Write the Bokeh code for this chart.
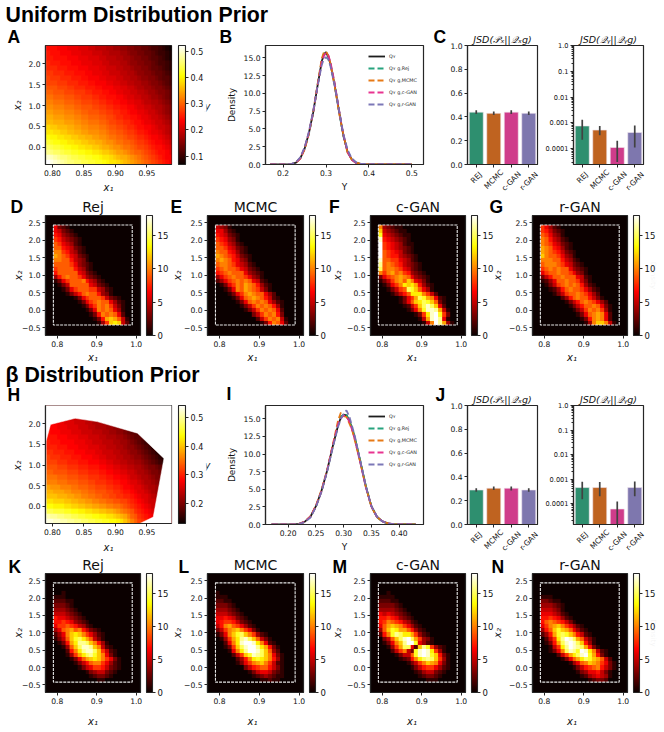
import math
import numpy as np
from bokeh.embed import file_html
from bokeh.resources import INLINE
from bokeh.layouts import column, row
from bokeh.models import (ColorBar, FixedTicker, Label, Legend, LegendItem, LinearColorMapper,
                          Range1d, NumeralTickFormatter, Spacer)
from bokeh.plotting import figure

# ---------- data ----------
TITLE_TOP = "Uniform Distribution Prior"
TITLE_BOTTOM = "β Distribution Prior"
methods = ["REJ", "MCMC", "c-GAN", "r-GAN"]
bar_colors = ["#2E8F6F", "#BF6320", "#CF3C8B", "#7E77AE"]
box_x = [0.79, 0.99]
box_y = [-0.42, 2.44]

# response surfaces (y*100), bottom row first, columns x1 = 0.79..0.99
surface_a = """52 51 50 49 48 47 46 46 45 45 44 44 43 43 42 42 41 40 39 39 38 37 36 35 34 33 32 31 30 29 28 27 26 25 24 23
50 49 48 47 46 46 45 44 44 43 43 42 42 41 41 40 39 39 38 37 36 35 35 34 33 32 31 30 29 28 27 26 25 24 23 23
47 46 45 45 44 43 43 42 42 41 41 40 40 39 39 38 37 37 36 35 34 34 33 32 31 30 30 29 28 27 26 25 24 24 23 22
45 44 43 43 42 41 41 40 40 39 39 38 38 37 37 36 35 35 34 33 33 32 31 31 30 29 28 28 27 26 25 24 24 23 22 21
43 42 41 41 40 40 39 39 38 38 37 37 36 36 35 35 34 33 33 32 31 31 30 30 29 28 27 27 26 25 24 23 23 22 21 20
41 40 40 39 39 38 38 37 37 36 36 35 35 34 34 33 33 32 31 31 30 30 29 28 28 27 26 26 25 24 23 23 22 21 20 19
39 39 38 38 37 37 36 36 35 35 34 34 33 33 33 32 32 31 30 30 29 29 28 27 27 26 25 25 24 23 22 22 21 20 19 18
38 37 37 36 36 36 35 35 34 34 33 33 32 32 32 31 31 30 29 29 28 28 27 26 26 25 24 24 23 23 22 21 20 20 19 18
36 36 35 35 35 34 34 34 33 33 32 32 31 31 31 30 30 29 28 28 27 27 26 26 25 24 24 23 22 22 21 20 20 19 18 17
35 35 34 34 34 33 33 33 32 32 31 31 30 30 30 29 29 28 28 27 26 26 25 25 24 24 23 22 22 21 20 20 19 18 17 16
34 34 33 33 33 32 32 32 31 31 30 30 29 29 29 28 28 27 27 26 26 25 25 24 23 23 22 22 21 20 20 19 18 17 16 15
33 33 32 32 32 31 31 31 30 30 29 29 29 28 28 27 27 26 26 25 25 24 24 23 23 22 21 21 20 20 19 18 18 17 16 15
32 32 31 31 31 30 30 30 29 29 28 28 28 27 27 26 26 25 25 24 24 23 23 22 22 21 21 20 19 19 18 18 17 16 15 14
31 31 30 30 30 29 29 29 28 28 27 27 27 26 26 25 25 24 24 24 23 23 22 21 21 20 20 19 19 18 17 17 16 15 14 13
30 30 29 29 29 28 28 28 27 27 27 26 26 25 25 25 24 24 23 23 22 22 21 21 20 20 19 19 18 17 17 16 15 15 14 13
29 29 29 28 28 28 27 27 26 26 26 25 25 25 24 24 23 23 23 22 22 21 21 20 20 19 18 18 17 17 16 15 15 14 13 12
28 28 28 27 27 27 26 26 26 25 25 25 24 24 23 23 23 22 22 21 21 20 20 19 19 18 18 17 17 16 15 15 14 13 12 11
28 27 27 27 26 26 26 25 25 25 24 24 23 23 23 22 22 21 21 21 20 20 19 19 18 18 17 16 16 15 15 14 13 12 12 11
27 27 26 26 26 25 25 25 24 24 24 23 23 22 22 22 21 21 20 20 20 19 19 18 18 17 16 16 15 15 14 13 13 12 11 10
26 26 26 25 25 25 24 24 24 23 23 23 22 22 22 21 21 20 20 20 19 19 18 18 17 16 16 15 15 14 13 13 12 11 10 9
26 25 25 25 24 24 24 23 23 23 22 22 22 21 21 21 20 20 19 19 19 18 18 17 16 16 15 15 14 14 13 12 11 11 10 9
25 25 24 24 24 24 23 23 23 22 22 22 21 21 21 20 20 19 19 19 18 18 17 17 16 15 15 14 14 13 12 12 11 10 9 8
25 24 24 24 23 23 23 22 22 22 21 21 21 20 20 20 19 19 18 18 18 17 17 16 15 15 14 14 13 13 12 11 10 10 9 8
24 24 24 23 23 23 22 22 22 21 21 21 20 20 19 19 19 18 18 17 17 16 16 15 15 14 14 13 13 12 11 11 10 9 8 7"""
surface_h = """53 53 52 52 51 51 50 50 49 49 48 48 47 47 46 46 45 45 44 44 43 42 40 38 36 34 32 31 30 29 28 27 26 25 25 24
51 50 50 49 49 48 48 47 47 46 46 45 45 44 44 43 43 42 42 41 40 39 38 36 34 33 31 30 29 28 27 26 25 24 24 23
47 47 46 46 46 45 45 44 44 43 43 42 42 41 41 40 40 39 39 38 37 36 35 34 33 31 30 29 28 27 26 25 24 23 23 22
44 44 43 43 43 42 42 41 41 40 40 39 39 38 38 37 37 36 36 35 35 34 33 32 31 30 29 28 27 26 25 24 23 23 22 21
42 42 41 41 41 40 40 39 39 38 38 37 37 36 36 35 35 34 34 33 33 32 32 31 30 29 28 27 26 25 25 24 23 22 21 20
40 40 40 39 39 39 38 38 37 37 36 36 35 35 34 34 33 33 32 32 31 31 30 30 29 28 27 26 26 25 24 23 22 21 20 19
39 39 38 38 38 37 37 36 36 36 35 35 34 34 33 33 33 32 32 31 31 30 29 29 28 27 26 26 25 24 23 22 22 21 20 19
38 37 37 37 36 36 36 35 35 34 34 34 33 33 32 32 32 31 31 30 30 29 28 28 27 26 26 25 24 23 23 22 21 20 19 18
36 36 36 35 35 35 34 34 34 33 33 33 32 32 31 31 31 30 30 29 29 28 28 27 26 26 25 24 23 23 22 21 20 19 19 18
35 35 35 34 34 34 33 33 33 32 32 32 31 31 31 30 30 29 29 28 28 27 27 26 25 25 24 23 23 22 21 20 20 19 18 17
34 34 33 33 33 33 32 32 32 31 31 31 30 30 30 29 29 28 28 27 27 26 26 25 25 24 23 23 22 21 20 20 19 18 17 16
33 33 33 32 32 32 31 31 31 30 30 30 29 29 29 28 28 27 27 26 26 25 25 24 24 23 23 22 21 20 20 19 18 17 16 15
32 32 32 31 31 31 30 30 30 29 29 29 28 28 28 27 27 26 26 25 25 24 24 23 23 22 22 21 20 19 18 17 16 15 14 13
32 31 31 31 30 30 30 29 29 29 28 28 28 27 27 26 26 25 25 25 24 24 23 23 22 21 21 20 19 18 17 16 15 14 13 13
31 31 30 30 30 29 29 29 28 28 28 27 27 27 26 26 25 25 25 24 24 23 23 22 21 21 20 19 18 17 16 15 14 13 13 13
30 30 30 29 29 29 28 28 28 27 27 27 26 26 26 25 25 24 24 24 23 23 22 21 21 20 19 18 17 16 15 14 14 13 13 13
30 29 29 29 28 28 28 28 27 27 27 26 26 25 25 25 24 24 24 23 23 22 22 21 20 19 18 17 16 16 15 14 13 13 13 13
29 29 29 28 28 28 27 27 27 26 26 26 25 25 25 24 24 23 23 23 22 22 21 20 19 18 18 17 16 15 14 14 13 13 13 13
29 28 28 28 27 27 27 26 26 26 25 25 25 24 24 24 23 23 22 22 21 21 20 19 18 18 17 16 15 15 14 13 13 13 13 13
28 28 28 27 27 27 26 26 26 25 25 25 24 24 23 23 23 22 22 21 21 20 19 19 18 17 16 16 15 14 14 13 13 13 13 13
28 28 27 27 27 26 26 26 25 25 25 24 24 23 23 23 22 22 21 21 20 20 19 18 18 17 16 15 15 14 13 13 13 13 13 13
28 27 27 27 26 26 26 25 25 25 24 24 23 23 22 22 22 21 21 20 20 19 18 18 17 16 16 15 14 14 13 13 13 13 13 13
27 27 27 26 26 26 25 25 25 24 24 23 23 22 22 22 21 21 20 20 19 19 18 17 17 16 15 15 14 13 13 13 13 13 13 13
27 27 26 26 26 25 25 25 24 24 23 23 22 22 22 21 21 20 20 19 19 18 18 17 16 16 15 14 14 13 13 13 13 13 13 13"""
hull_x1 = [0.79, 0.797, 0.836, 0.871, 0.935, 0.977, 0.96, 0.938, 0.79]
hull_x2 = [1.58, 1.98, 2.13, 2.05, 1.77, 1.16, -0.26, -0.42, -0.42]

# density curves
b_x = [.17,.20,.21,.22,.23,.24,.25,.26,.27,.28,.29,.295,.30,.305,.31,.32,.33,.34,.35,.36,.37,.38,.39,.40,.42,.45,.50]
b_true = [0,0,.01,.06,.25,.85,2.2,4.4,7.3,11,14.5,15.5,15.8,15.2,14.2,11.2,7.6,4.2,1.8,.7,.25,.08,.03,.01,0,0,0]
b_rej = [0,0,.01,.07,.27,.9,2.2,4.3,7.2,11.1,14.6,15.6,15.7,15.3,14.3,11.4,7.7,4.1,1.9,.7,.22,.07,.02,0,0,0,0]
b_mcmc = [0,0,.01,.05,.24,.82,2.1,4.3,7.4,11.2,14.9,15.8,15.9,15.4,14.3,11.1,7.4,4.3,1.7,.7,.27,.09,.03,.01,0,0,0]
b_cgan = [0,0,.01,.06,.26,.88,2.3,4.5,7.3,11,14.4,15.3,15.7,15.4,14.5,11.5,7.8,4.3,1.8,.65,.22,.07,.02,.01,.01,.01,0]
b_rgan = [0,0,.02,.09,.33,1,2.4,4.6,7.5,10.9,14,14.9,15.1,14.8,13.9,11.1,7.7,4.4,2.1,.85,.32,.11,.04,.02,0,0,0]
i_x = [.17,.20,.21,.22,.23,.24,.25,.26,.27,.28,.29,.295,.30,.305,.31,.315,.32,.33,.34,.35,.36,.37,.38,.39,.40,.43]
i_true = [0,0,.02,.1,.4,1.1,2.6,4.8,7.6,11,14.1,15.2,15.6,15.5,14.8,13.7,12.3,8.9,5.4,2.6,1.1,.45,.15,.05,.02,0]
i_rej = [0,0,.02,.1,.38,1.1,2.5,4.7,7.5,11,14.2,15.4,15.5,15.7,14.6,13.9,12.4,9.1,5.5,2.6,1.05,.42,.14,.05,.01,0]
i_mcmc = [0,0,.02,.11,.42,1.15,2.7,4.9,7.7,11.2,14.8,15.9,15.4,15.3,14.4,13.5,12,8.8,5.3,2.5,1.05,.45,.16,.05,.02,0]
i_cgan = [0,0,.02,.1,.4,1.1,2.6,4.7,7.6,11.1,14.3,15.1,15.5,15.3,14.7,13.5,12.2,8.8,5.3,2.55,1.1,.45,.15,.05,.02,0]
i_rgan = [0,0,.01,.08,.35,1,2.5,4.7,7.5,10.8,13.9,15,15.7,16.2,15.4,14,12.6,9,5.4,2.6,1.1,.44,.14,.04,.01,0]

# JSD bars: value, low, high
c1_vals = [.44, .43, .44, .43]; c1_lo = [.425, .415, .425, .415]; c1_hi = [.455, .445, .455, .445]
c2_vals = [.00075, .00052, .00011, .00042]; c2_lo = [.00022, .00033, .00003, .00011]; c2_hi = [.0013, .00075, .0002, .00078]
j1_vals = [.29, .305, .305, .29]; j1_lo = [.275, .29, .285, .275]; j1_hi = [.305, .32, .32, .305]
j2_vals = [.00045, .00045, .00006, .00045]; j2_lo = [.00015, .0002, .00001, .0002]; j2_hi = [.00078, .00075, .00012, .0008]

# 2-D histograms: top row first, one character per cell, base 19 (0..i = density 0..18)
hist_d = ["63210000000000000000","65321000000000000000","76432100000000000000","87543210000000000000",
 "98654210000000000000","99765321000000000000","aa875421000000000000","ba986532100000000000",
 "aa997543100000000000","99998643210000000000","89999754210000000000","79999965321000000000",
 "479a9986432100000000","1368999a754210000000","01359999965321000000","00136899988542100000",
 "00013579a99743100000","00000136899985321000","00000013689a99642100","00000001368a9a853100",
 "00000000136a9a964100","000000000137a9a96200","0000000000137bcb9510","00000000000148cdc520"]
hist_e = ["54310000000000000000","66421000000000000000","76532100000000000000","87643100000000000000",
 "98754210000000000000","99865321000000000000","a9976421000000000000","ba987532100000000000",
 "aba97643100000000000","9aa98654210000000000","89a99865321000000000","789a9996432100000000",
 "4689a998643100000000","24689a9a965210000000","01368a9ba97421000000","00136a9ba98531000000",
 "0001368aba9964200000","00001369aba975210000","000001369a9a96421000","0000001358a9a9741000",
 "00000001358a9a962000","000000000358a9a73000","0000000000258a9a5100","00000000000137a96200"]
hist_f = ["a4321100000000000000","c5432110000000000000","e6543211000000000000","h7654321000000000000",
 "i8765421100000000000","i8765432100000000000","i9876532100000000000","i9877543210000000000",
 "h9988654210000000000","g9a98754321000000000","f9aa9865321000000000","a8ab9a87432100000000",
 "3689aba9643210000000","1358ab9ca65310000000","01368adcdb7421000000","0013589fec9641000000",
 "00013579ddda85200000","000001368bfeba621000","000001369cdfec931000","0000001258cfhfc62000",
 "0000000136aehhgb5100","000000000138dhie8300","000000000015bhig6100","0000000000015aigb410"]
hist_g = ["86421000000000000000","87532100000000000000","98643100000000000000","a9754210000000000000",
 "a9865321000000000000","ba976421000000000000","ba987532100000000000","ca998643100000000000",
 "aaa99754210000000000","9aaa9865321000000000","89a9a996432100000000","6899a998643100000000",
 "35799a99965210000000","124699a9985310000000","013589a9a97421000000","0012479a998642100000",
 "000135899a9864200000","000002479a9975310000","00000013579a98642000","0000000135799a963100",
 "000000001358a9a84100","0000000001369aba6200","0000000000137aba6200","0000000000014acca510"]
hist_k = ["00000000000000000000","00000000000000000000","00100000000000000000","11100000000000000000",
 "22211000000000000000","33321000000000000000","44432100000000000000","55543210000000000000",
 "76654321000000000000","77876432100000000000","68898754210000000000","469ab9a7532100000000",
 "246acdca864210000000","1359cefdb95310000000","0137bdggfca741000000","00149cfhhgca52100000",
 "00027adghhfc85210000","000148bdfgeca6310000","00001369bcdca8631000","0000013579aa86421000",
 "00000013568875321000","00000000134553210000","00000000012332100000","00000000000110000000"]
hist_l = ["00000000000000000000","00000000000000000000","10000000000000000000","11100000000000000000",
 "22110000000000000000","33321000000000000000","44432100000000000000","55543210000000000000",
 "66765321000000000000","67887532100000000000","57ab9864210000000000","358abca8631000000000",
 "136acefca84210000000","0148bdghfc9531000000","0026adhiihda62100000","00138cfhiigdb7310000",
 "00016adgiihfc9420000","0000258cehgfca631000","00000247adedca741000","000001368abca8521000",
 "00000003578997531000","00000000135665321000","00000000012343211000","00000000000112110000"]
hist_m = ["00000000000000000000","00000000000000000000","00100000000000000000","11110000000000000000",
 "22211000000000000000","33332100000000000000","44443210000000000000","65654321000000000000",
 "77876432100000000000","78a98754210000000000","69bcba86421000000000","49cedbb9742100000000",
 "27aegfddb84210000000","0359cfhifb8431000000","0136acgiie6421000000","00148bff62cge8421000",
 "000258a53ehihd841000","000013559ehihec73100","000001237adfgfc84100","00000001358acba63100",
 "00000000135788642100","00000000012455321000","00000000001233210000","00000000000011100000"]
hist_n = ["00000000000000000000","00000000000000000000","00000000000000000000","11100000000000000000",
 "33211000000000000000","44432100000000000000","55543100000000000000","66654210000000000000",
 "77876421000000000000","79a98753100000000000","68abca86421000000000","479cecb9642100000000",
 "247befeca75210000000","0258dgihfb9531000000","0137bfhihfc741000000","00158dgihgfb73100000",
 "00136afhgeihda521000","0000258bdfhieb731000","000001369bdfecb95200","00000001469acba86310",
 "00000000135789a75310","00000000013466753100","00000000001245654100","00000000000012332000"]

# ---------- style ----------
AX = "#262626"
TICK_FS = "7.6px"
ANCH = [(0, 0.0416, 0, 0), (.365, 1, 0, 0), (.746, 1, 1, 0), (1, 1, 1, 1)]
t = np.linspace(0, 1, 256)
HOT = ["#%02x%02x%02x" % tuple(int(round(255 * float(np.interp(v, [a[0] for a in ANCH], [a[c] for a in ANCH])))) for c in (1, 2, 3)) for v in t]

# Texts that lie outside any plot frame live on one page-sized layer under the panels,
# because a label is cut off at the frame of the figure that holds it.
layer = figure(width=664, height=732, x_range=Range1d(0, 664), y_range=Range1d(732, 0), toolbar_location=None,
               output_backend="svg", x_axis_location=None, y_axis_location=None, min_border=0)
layer.grid.visible = False
layer.outline_line_color = None


def base_fig(x0, x1, y0, y1, fl, fr, ft, fb, x_range, y_range, **kw):
    p = figure(width=x1 - x0, height=y1 - y0, frame_width=round(fr - fl), frame_height=round(fb - ft),
               min_border_left=round(fl - x0), min_border_right=x1 - x0 - round(fl - x0) - round(fr - fl),
               min_border_top=round(ft - y0), min_border_bottom=y1 - y0 - round(ft - y0) - round(fb - ft),
               x_range=x_range, y_range=y_range, toolbar_location=None, output_backend="svg",
               border_fill_color=None, **kw)
    p.grid.visible = False
    p.outline_line_color = AX
    p.outline_line_width = 1.2
    for ax in (p.xaxis[0], p.yaxis[0]):
        ax.axis_line_color = AX
        ax.axis_line_width = 1.2
        ax.major_tick_line_color = AX
        ax.major_tick_line_width = 1
        ax.major_tick_out = 3
        ax.major_tick_in = 0
        ax.minor_tick_line_color = None
        ax.major_label_text_font = "DejaVu Sans"
        ax.major_label_text_font_size = TICK_FS
        ax.major_label_text_color = "#111111"
        ax.major_label_standoff = 2
        ax.axis_label_text_font = "DejaVu Sans"
        ax.axis_label_text_font_size = "9px"
        ax.axis_label_text_font_style = "normal"
        ax.axis_label_text_color = "#111111"
    return p


def note(s, ax, ay, size, angle=0, style="normal"):
    layer.add_layout(Label(x=ax, y=ay, text=s, angle=angle, text_align="center", text_baseline="middle",
                           text_font="DejaVu Sans", text_font_style=style, text_font_size=size, text_color="#111111"))


def letter(s, ax, base, size=17.5):
    # Label's alphabetic baseline lands about 0.38 of the font size below the asked position
    layer.add_layout(Label(x=ax, y=base - .38 * size, text=s, text_font="Liberation Sans", text_font_style="bold",
                           text_font_size=f"{size}px", text_color="#000000", text_baseline="alphabetic"))


def cbar(p, lo, hi, ticks, fmt, h, gap, w, fs):
    cm = LinearColorMapper(palette=HOT, low=lo, high=hi)
    cb = ColorBar(color_mapper=cm, ticker=FixedTicker(ticks=ticks), width=w, height=h, location=(gap, 0),
                  padding=0, margin=0, bar_line_color=AX, bar_line_width=1.1,
                  major_tick_line_color=AX, major_tick_in=0, major_tick_out=3, minor_tick_line_color=None,
                  label_standoff=2, major_label_text_font="DejaVu Sans", major_label_text_font_size=fs,
                  major_label_text_color="#111111",
                  formatter=NumeralTickFormatter(format=fmt))
    p.add_layout(cb, "right")


def surface(x0, x1, y0, y1, grid, lo, hi, ticks, hull=False, ylab=(207, 106), xlab_y=187):
    p = base_fig(x0, x1, y0, y1, 45, 171, y0 + 18, y0 + (137 if not hull else 136),
                 Range1d(.789, .989), Range1d(-.415, 2.44))
    arr = np.array([r.split() for r in grid.splitlines()], dtype=float) / 100
    mapper = LinearColorMapper(palette=HOT, low=lo, high=hi)
    p.image(image=[arr], x=.79, y=-.42, dw=.2, dh=2.86, color_mapper=mapper)
    if hull:
        p.multi_polygons(xs=[[[[.7, 1.1, 1.1, .7], hull_x1]]], ys=[[[[-1, -1, 3, 3], hull_x2]]],
                         fill_color="white", line_color="white", line_width=.5)
    p.xaxis.ticker = FixedTicker(ticks=[.8, .85, .9, .95])
    p.xaxis.formatter = NumeralTickFormatter(format="0.00")
    p.yaxis.ticker = FixedTicker(ticks=[0, .5, 1, 1.5, 2])
    p.yaxis.formatter = NumeralTickFormatter(format="0.0")
    note("x₁", 108, xlab_y, "10px", style="italic")
    note("x₂", 17, y0 + 78, "10px", angle=math.pi / 2, style="italic")
    cbar(p, lo, hi, ticks, "0.0", p.frame_height, 7, 7, "8px")
    note("y", ylab[0], ylab[1], "10px", style="italic")
    return p


def density(x0, x1, y0, y1, ft, fb, xr, yr, xs, series, ticks, fmt, xlab_y):
    p = base_fig(x0, x1, y0, y1, 265, 423, ft, fb, Range1d(*xr), Range1d(0, yr))
    names = ["Qʏ", "Qʏ g,Rej", "Qʏ g,MCMC", "Qʏ g,c-GAN", "Qʏ g,r-GAN"]
    cols = ["#111111", "#1b9e77", "#e6730a", "#e7298a", "#7570b3"]
    items = []
    for k, (s, c, n) in enumerate(zip(series, cols, names)):
        r = p.line(xs, s, line_color=c, line_width=1.8, line_dash="solid" if k == 0 else "6 3", line_alpha=.95)
        items.append(LegendItem(label=n, renderers=[r]))
    lg = Legend(items=items, location=(103, 54), background_fill_alpha=0, border_line_color=None, padding=0, margin=0,
                spacing=0, glyph_width=17, glyph_height=12, label_height=12, label_standoff=4,
                label_text_font="DejaVu Sans", label_text_font_size="4.8px", label_text_color="#222222")
    p.add_layout(lg)
    p.xaxis.ticker = FixedTicker(ticks=ticks)
    p.xaxis.formatter = NumeralTickFormatter(format=fmt)
    p.yaxis.ticker = FixedTicker(ticks=[0, 2.5, 5, 7.5, 10, 12.5, 15])
    p.yaxis.formatter = NumeralTickFormatter(format="0.0")
    p.yaxis.axis_label = "Density"
    p.yaxis.axis_label_standoff = 4
    note("Y", 344, xlab_y, "9px")
    return p


def bars(x0, x1, y0, y1, fl, fr, ft, fb, vals, lo, hi, title, log_bottom=None):
    slots = list(range(len(methods)))
    if log_bottom is None:
        p = base_fig(x0, x1, y0, y1, fl, fr, ft, fb, Range1d(-.5, 3.5), Range1d(0, 1))
        base = 0
        p.yaxis.ticker = FixedTicker(ticks=[0, .2, .4, .6, .8, 1])
        p.yaxis.formatter = NumeralTickFormatter(format="0.0")
    else:
        p = base_fig(x0, x1, y0, y1, fl, fr, ft, fb, Range1d(-.5, 3.5), Range1d(log_bottom, 1),
                     y_axis_type="log")
        base = log_bottom
        decades = [1.0, .1, .01, .001, .0001]
        minor = [m * d / 10 for d in [1.0, .1, .01, .001, .0001, .00001] for m in range(2, 10)]
        p.yaxis.ticker = FixedTicker(ticks=decades, minor_ticks=minor)
        p.yaxis.major_label_overrides = {1.0: "1.0", .1: "0.1", .01: "0.01", .001: "0.001", .0001: "0.0001"}
        p.yaxis.minor_tick_line_color = AX
        p.yaxis.minor_tick_out = 2
        p.yaxis.minor_tick_in = 0
        p.yaxis.major_label_text_font_size = "6.6px"
    p.vbar(x=slots, top=vals, bottom=base, width=.8, fill_color=bar_colors, line_color="#f2e6ee", line_width=.6)
    p.segment(x0=slots, x1=slots, y0=lo, y1=hi, line_color="#424242", line_width=1.7)
    # rotated category names are set on the text layer, so that they do not push the next row down
    p.xaxis.ticker = FixedTicker(ticks=slots)
    p.xaxis.major_label_overrides = {k: "" for k in slots}
    for k, m in enumerate(methods):
        tw = len(m) * .68 * 7.5
        note(m, fl + (k + .5) * (fr - fl) / 4, fb + 5 + (tw + 7.5) * .707 / 2, "7.5px", angle=math.pi / 4)
    p.title.text = title
    p.title.align = "center"
    p.title.text_font = "DejaVu Sans"
    p.title.text_font_style = "italic"
    p.title.text_font_size = "9.5px"
    p.title.text_color = "#111111"
    p.title.standoff = 2
    return p


def heat(x0, x1, y0, y1, fl, fr, ft, fb, rows, title, xlab_y=357, density_label=False):
    p = base_fig(x0, x1, y0, y1, fl, fr, ft, fb, Range1d(.77, 1.011), Range1d(-.72, 2.71))
    p.background_fill_color = HOT[0]
    arr = np.array([[int(c, 19) for c in r.ljust(20, "0")[:20]] for r in rows[::-1]], dtype=float)
    mapper = LinearColorMapper(palette=HOT, low=0, high=18)
    p.image(image=[arr], x=box_x[0], y=box_y[0], dw=box_x[1] - box_x[0], dh=box_y[1] - box_y[0], color_mapper=mapper)
    p.quad(left=box_x[0], right=box_x[1], bottom=box_y[0], top=box_y[1], fill_alpha=0,
           line_color="#e6e6e6", line_width=1.1, line_dash="3 1")
    p.xaxis.ticker = FixedTicker(ticks=[.8, .9, 1.0])
    p.xaxis.formatter = NumeralTickFormatter(format="0.0")
    p.yaxis.ticker = FixedTicker(ticks=[-.5, 0, .5, 1, 1.5, 2, 2.5])
    p.yaxis.major_label_overrides = {-.5: "−0.5", 0: "0.0", .5: "0.5", 1: "1.0", 1.5: "1.5", 2: "2.0", 2.5: "2.5"}
    note("x₁", (fl + fr) / 2, xlab_y, "10px", style="italic")
    note("x₂", fl - 27, (ft + fb) / 2, "10px", angle=math.pi / 2, style="italic")
    p.title.text = title
    p.title.align = "center"
    p.title.text_font = "DejaVu Sans"
    p.title.text_font_style = "normal"
    p.title.text_font_size = "14px"
    p.title.text_color = "#111111"
    p.title.standoff = 2
    cbar(p, 0, 18, [0, 5, 10, 15], "0", p.frame_height, 6, 6, "8.5px")
    if density_label:
        note("Density", 653, (ft + fb) / 2, "7.2px", angle=-math.pi / 2)
    return p


# ---------- headers ----------
letter(TITLE_TOP, 5, 23, size=21.3)
letter(TITLE_BOTTOM, 5, 383, size=21.3)

# ---------- row 1 ----------
a = surface(0, 216, 27, 190, surface_a, .068, .5215, [.1, .2, .3, .4, .5], ylab=(207, 106), xlab_y=187)
letter("A", 7, 43)
bb = density(216, 431, 27, 190, 45, 164, (.159, .527), 16.75, b_x, [b_true, b_rej, b_mcmc, b_cgan, b_rgan], [.2, .3, .4, .5], "0.0", 186)
letter("B", 219, 43)
c1 = bars(431, 539, 27, 190, 467, 537, 45, 164, c1_vals, c1_lo, c1_hi, "JSD(𝒫ₓ||𝒬ₓg)")
letter("C", 433, 43)
c2 = bars(539, 664, 27, 190, 573, 643, 45, 164, c2_vals, c2_lo, c2_hi, "JSD(𝒬ᵧ||𝒬ᵧg)", log_bottom=2.4e-5)

# ---------- row 2 ----------
cols = [(0, 168, 45, 140), (168, 328, 204, 300), (328, 488, 364, 459), (488, 664, 524, 619)]
names = ["Rej", "MCMC", "c-GAN", "r-GAN"]
top_h = [hist_d, hist_e, hist_f, hist_g]
bot_h = [hist_k, hist_l, hist_m, hist_n]
row2 = []
for i, (c, n, h) in enumerate(zip(cols, names, top_h)):
    row2.append(heat(c[0], c[1], 190, 362, c[2], c[3], 215, 335, h, n, xlab_y=357, density_label=i == 3))
for s, ax in zip("DEFG", [10, 170, 328.5, 489]):
    letter(s, ax, 213)

# ---------- row 3 ----------
h_fig = surface(0, 216, 387, 550, surface_h, .129, .543, [.2, .3, .4, .5], hull=True, ylab=(207, 465), xlab_y=547)
letter("H", 7, 401)
ii = density(216, 431, 387, 550, 405, 524, (.159, .444), 16.9, i_x, [i_true, i_rej, i_mcmc, i_cgan, i_rgan], [.2, .25, .3, .35, .4], "0.00", 546)
letter("I", 226, 400)
j1 = bars(431, 539, 387, 550, 467, 537, 405, 524, j1_vals, j1_lo, j1_hi, "JSD(𝒫ₓ||𝒬ₓg)")
letter("J", 435, 401)
j2 = bars(539, 664, 387, 550, 573, 643, 405, 524, j2_vals, j2_lo, j2_hi, "JSD(𝒬ᵧ||𝒬ᵧg)", log_bottom=1.4e-5)

# ---------- row 4 ----------
row4 = []
for i, (c, n, h) in enumerate(zip(cols, names, bot_h)):
    row4.append(heat(c[0], c[1], 550, 732, c[2], c[3], 573, 692, h, n, xlab_y=721, density_label=i == 3))
for s, ax in zip("KLMN", [8, 178, 332, 491]):
    letter(s, ax, 573)

panels = column(Spacer(width=664, height=27),
                row(a, bb, c1, c2, spacing=0),
                row(*row2, spacing=0),
                Spacer(width=664, height=25),
                row(h_fig, ii, j1, j2, spacing=0),
                row(*row4, spacing=0),
                spacing=0, margin=(-732, 0, 0, 0))
page = column(layer, panels, spacing=0)
open("out.html", "w").write(file_html(page, INLINE))
